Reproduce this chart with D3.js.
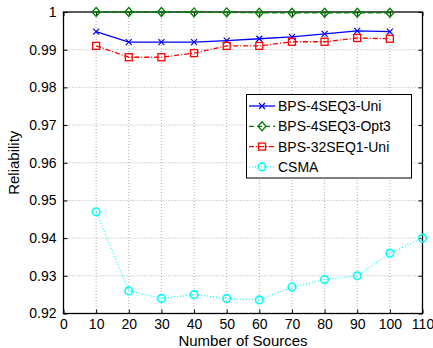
<!DOCTYPE html>
<html>
<head>
<meta charset="utf-8">
<script src="https://cdn.jsdelivr.net/npm/d3@7"></script>
<style>
body{margin:0;background:#fff;}
text{font-family:"Liberation Sans",Helvetica,Arial,sans-serif;}
</style>
</head>
<body>
<svg width="433" height="348"></svg>
<script>
// data
var sources=[10,20,30,40,50,60,70,80,90,100];
var sourcesCsma=[10,20,30,40,50,60,70,80,90,100,110];
var uni4=[0.9948,0.9920,0.9920,0.9920,0.9924,0.9929,0.9934,0.9942,0.9950,0.9948];
var opt3=[1.0,1.0,1.0,0.9999,0.9999,0.9998,0.9998,0.9998,0.9998,0.9998];
var uni32=[0.9910,0.9880,0.9880,0.9891,0.9910,0.9910,0.9921,0.9921,0.9931,0.9929];
var csma=[0.947,0.926,0.924,0.925,0.924,0.9236,0.927,0.929,0.930,0.936,0.940];
var xTicks=[0,10,20,30,40,50,60,70,80,90,100,110];
var yTicks=[0.92,0.93,0.94,0.95,0.96,0.97,0.98,0.99,1];

var svg=d3.select('svg');
var L=63.5,R=422.5,T=12,B=313.5;
var x=d3.scaleLinear().domain([0,110]).range([L,R]);
var y=d3.scaleLinear().domain([0.92,1]).range([B,T]);

// grid
var g=svg.append('g');
xTicks.slice(1,-1).forEach(function(t){
  g.append('line').attr('x1',x(t)).attr('x2',x(t)).attr('y1',T).attr('y2',B)
   .attr('stroke','#999').attr('stroke-width',0.8).attr('stroke-dasharray','1,2');
});
yTicks.slice(1,-1).forEach(function(t){
  g.append('line').attr('x1',L).attr('x2',R).attr('y1',y(t)).attr('y2',y(t))
   .attr('stroke','#999').attr('stroke-width',0.8).attr('stroke-dasharray','1,2');
});

// axes
var xa=svg.append('g').attr('transform','translate(0,'+B+')')
  .call(d3.axisBottom(x).tickValues(xTicks).tickSizeInner(-4).tickSizeOuter(0).tickPadding(6).tickFormat(d3.format('d')));
var xt=svg.append('g').attr('transform','translate(0,'+T+')')
  .call(d3.axisTop(x).tickValues(xTicks).tickSizeInner(-4).tickSizeOuter(0).tickFormat(''));
var ya=svg.append('g').attr('transform','translate('+L+',0)')
  .call(d3.axisLeft(y).tickValues(yTicks).tickSizeInner(-4).tickSizeOuter(0).tickPadding(7).tickFormat(function(d){return d===1?'1':d3.format('.2f')(d);}));
var yr=svg.append('g').attr('transform','translate('+R+',0)')
  .call(d3.axisRight(y).tickValues(yTicks).tickSizeInner(-4).tickSizeOuter(0).tickFormat(''));
[xa,xt,ya,yr].forEach(function(a){
  a.selectAll('path').remove();
  a.selectAll('line').attr('stroke','#000').attr('stroke-width',1);
  a.selectAll('text').attr('font-size',14).attr('fill','#000')
   .style('font-family','"Liberation Sans",Helvetica,Arial,sans-serif');
});
svg.append('rect').attr('x',L).attr('y',T).attr('width',R-L).attr('height',B-T)
  .attr('fill','none').attr('stroke','#000').attr('stroke-width',1.3);

svg.append('text').attr('x',x(55)).attr('y',346).attr('text-anchor','middle')
  .attr('font-size',15).text('Number of Sources');
svg.append('text').attr('transform','translate(19,'+((T+B)/2)+') rotate(-90)')
  .attr('text-anchor','middle').attr('font-size',15).text('Reliability');

// markers
function marker(sel,type,cx,cy,color){
  if(type==='x'){
    sel.append('path').attr('d','M'+(cx-3)+','+(cy-3)+'L'+(cx+3)+','+(cy+3)+'M'+(cx-3)+','+(cy+3)+'L'+(cx+3)+','+(cy-3))
      .attr('stroke',color).attr('stroke-width',1.2).attr('fill','none');
  }else if(type==='d'){
    sel.append('path').attr('d','M'+cx+','+(cy-4.5)+'L'+(cx+4)+','+cy+'L'+cx+','+(cy+4.5)+'L'+(cx-4)+','+cy+'Z')
      .attr('stroke',color).attr('stroke-width',1.3).attr('fill','none');
  }else if(type==='s'){
    sel.append('rect').attr('x',cx-3.5).attr('y',cy-3.5).attr('width',7).attr('height',7)
      .attr('stroke',color).attr('stroke-width',1.3).attr('fill','none');
  }else{
    sel.append('circle').attr('cx',cx).attr('cy',cy).attr('r',3.8)
      .attr('stroke',color).attr('stroke-width',1.6).attr('fill','none');
  }
}

var series=[
  {name:'BPS-4SEQ3-Uni',xs:sources,ys:uni4,color:'#0000ff',dash:null,m:'x'},
  {name:'BPS-4SEQ3-Opt3',xs:sources,ys:opt3,color:'#008000',dash:'5,3',m:'d'},
  {name:'BPS-32SEQ1-Uni',xs:sources,ys:uni32,color:'#ff0000',dash:'5,2,1,2',m:'s'},
  {name:'CSMA',xs:sourcesCsma,ys:csma,color:'#00ffff',dash:'1,2',m:'o'}
];
var line=d3.line().x(function(d){return x(d[0]);}).y(function(d){return y(d[1]);});
var plot=svg.append('g');
series.forEach(function(s){
  var pts=s.xs.map(function(v,i){return [v,s.ys[i]];});
  plot.append('path').attr('d',line(pts)).attr('fill','none').attr('stroke',s.color)
    .attr('stroke-width',s.m==='o'?1.2:1.3).attr('stroke-dasharray',s.dash);
  pts.forEach(function(p){marker(plot,s.m,x(p[0]),y(p[1]),s.color);});
});

// legend
var lg=svg.append('g');
lg.append('rect').attr('x',246.5).attr('y',94.5).attr('width',165).attr('height',83.5)
  .attr('fill','#fff').attr('stroke','#000').attr('stroke-width',1);
series.forEach(function(s,i){
  var yy=106+i*20.3;
  lg.append('line').attr('x1',249).attr('x2',275).attr('y1',yy).attr('y2',yy)
    .attr('stroke',s.color).attr('stroke-width',1.3).attr('stroke-dasharray',s.dash);
  marker(lg,s.m,262,yy,s.color);
  lg.append('text').attr('x',278).attr('y',yy+5).attr('font-size',14).text(s.name);
});
</script>
</body>
</html>
